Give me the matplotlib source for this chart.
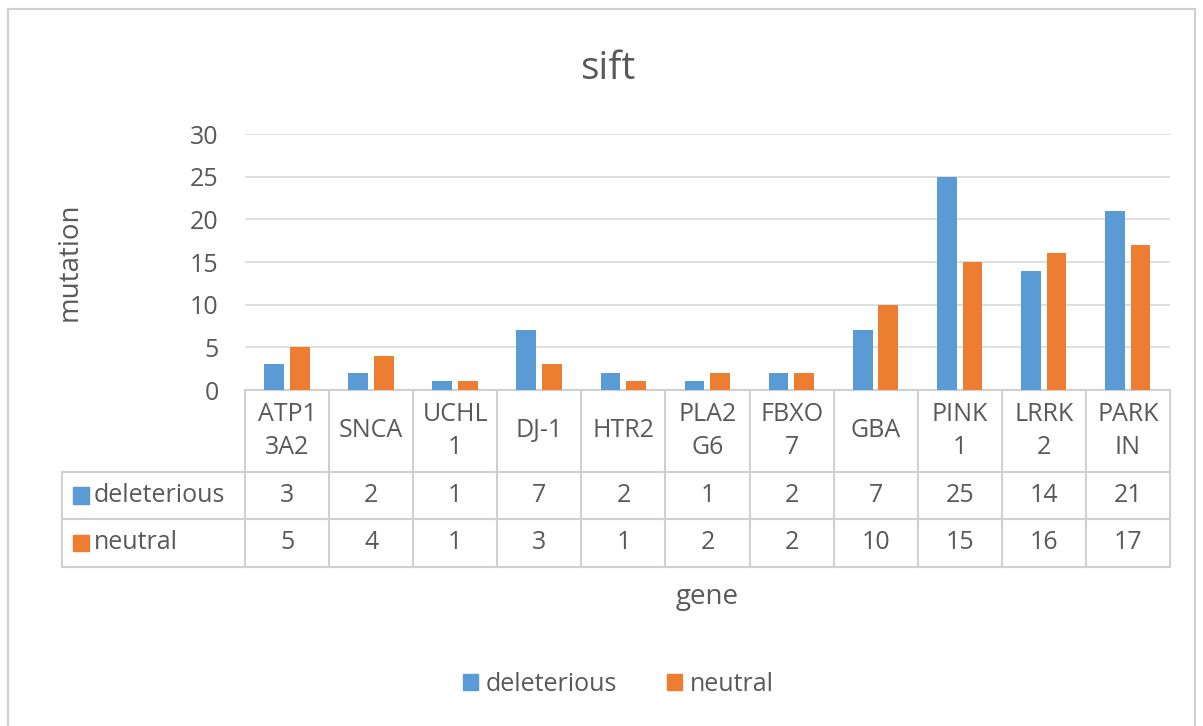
import numpy as np
import matplotlib.pyplot as plt
from matplotlib.patches import Rectangle
import matplotlib.transforms as mtrans

genes = ['ATP1\n3A2', 'SNCA', 'UCHL\n1', 'DJ-1', 'HTR2', 'PLA2\nG6', 'FBXO\n7', 'GBA', 'PINK\n1', 'LRRK\n2', 'PARK\nIN']
deleterious = [3, 2, 1, 7, 2, 1, 2, 7, 25, 14, 21]
neutral = [5, 4, 1, 3, 1, 2, 2, 10, 15, 16, 17]
series = ['deleterious', 'neutral']
colors = ['#5B9BD5', '#ED7D31']

txt = '#595959'
grid = '#D9D9D9'
fs = 18
plt.rcParams['font.family'] = ['Open Sans', 'DejaVu Sans']

fig = plt.figure(figsize=(12.03, 7.26), dpi=100)
fig.patches.append(Rectangle((0.007, -0.01), 0.986, 0.997, transform=fig.transFigure,
                             fill=False, edgecolor='#D0D0D0', lw=1.5))
ax = fig.add_axes([0.2037, 0.4628, 0.7689, 0.3526])

x = np.arange(len(genes))
w = 0.235
ax.bar(x - 0.155, deleterious, w, color=colors[0], zorder=3)
ax.bar(x + 0.15, neutral, w, color=colors[1], zorder=3)

ax.set_xlim(-0.5, len(genes) - 0.5)
ax.set_ylim(0, 30)
ax.set_yticks(range(0, 31, 5))
ax.tick_params(axis='y', length=0, labelsize=fs, labelcolor=txt, pad=19)
ax.set_xticks([])
ax.grid(axis='y', color=grid, lw=1.2, zorder=0)
for s in ax.spines.values():
    s.set_visible(False)

# data table below the axis
tr = mtrans.blended_transform_factory(ax.transData, ax.transAxes)
y_rows = [0, -0.32, -0.504, -0.691]
lc = '#D0D0D0'
kw = dict(color=lc, lw=1.5, clip_on=False, transform=tr)
xl = -0.5 - 2.18  # legend column left edge in data units
ax.plot([-0.5, len(genes) - 0.5], [y_rows[0]] * 2, **kw)
for yy in y_rows[1:]:
    ax.plot([xl, len(genes) - 0.5], [yy] * 2, **kw)
for i in range(len(genes) + 1):
    ax.plot([i - 0.5] * 2, [y_rows[0], y_rows[3]], **kw)
ax.plot([xl] * 2, [y_rows[1], y_rows[3]], **kw)

for i, g in enumerate(genes):
    ax.text(i, (y_rows[0] + y_rows[1]) / 2, g, transform=tr, ha='center', va='center',
            fontsize=fs, color=txt, linespacing=1.45)
for r, vals in enumerate([deleterious, neutral]):
    yc = (y_rows[r + 1] + y_rows[r + 2]) / 2
    for i, v in enumerate(vals):
        ax.text(i, yc, str(v), transform=tr, ha='center', va='center', fontsize=fs, color=txt)
    ax.add_patch(Rectangle((xl + 0.13, yc - 0.033), 0.19, 0.066, transform=tr,
                           color=colors[r], clip_on=False))
    ax.text(xl + 0.38, yc, series[r], transform=tr, ha='left', va='center',
            fontsize=fs, color=txt)

fig.text(0.505, 0.905, 'sift', fontsize=28, color=txt, ha='center', va='center')
fig.text(0.058, 0.639, 'mutation', fontsize=20, color=txt, ha='center', va='center',
         rotation=90)
ax.text(0.5, -0.81, 'gene', transform=ax.transAxes, ha='center', va='center',
        fontsize=20, color=txt)

handles = [Rectangle((0, 0), 1, 1, color=c) for c in colors]
fig.legend(handles, series, loc='center', bbox_to_anchor=(0.514, 0.057), ncol=2,
           frameon=False, fontsize=fs, labelcolor=txt, handlelength=0.6,
           handleheight=0.6, handletextpad=0.3, columnspacing=2.0)

fig.savefig('out.png', dpi=100)
